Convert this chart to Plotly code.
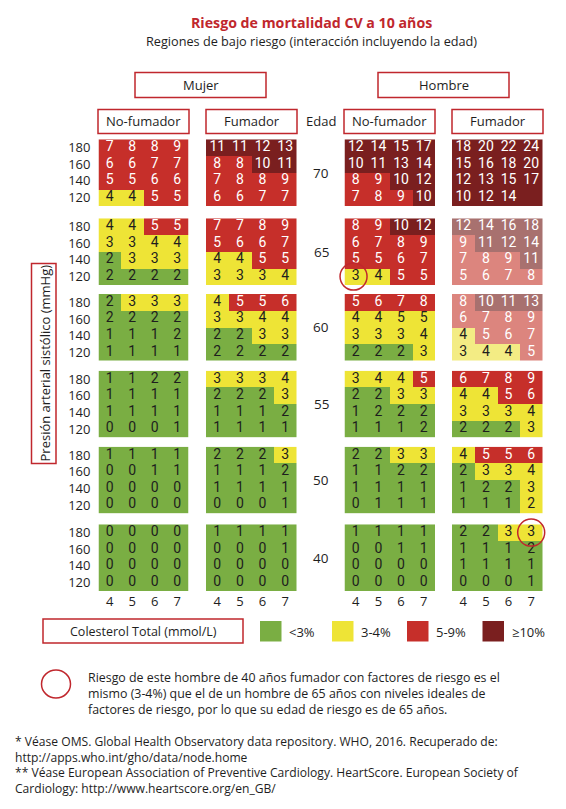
import plotly.graph_objects as go

# ---------------- DATA ----------------
ages = [70, 65, 60, 55, 50, 40]
cholesterol_ticks = ["4", "5", "6", "7"]
pressure_ticks = ["180", "160", "140", "120"]  # rows top -> bottom

# risk values (%), per age: rows 180,160,140,120 ; cols chol 4,5,6,7
mujer_nofumador = [
    [[7, 8, 8, 9], [6, 6, 7, 7], [5, 5, 6, 6], [4, 4, 5, 5]],
    [[4, 4, 5, 5], [3, 3, 4, 4], [2, 3, 3, 3], [2, 2, 2, 2]],
    [[2, 3, 3, 3], [2, 2, 2, 2], [1, 1, 1, 2], [1, 1, 1, 1]],
    [[1, 1, 2, 2], [1, 1, 1, 1], [1, 1, 1, 1], [0, 0, 0, 1]],
    [[1, 1, 1, 1], [0, 0, 1, 1], [0, 0, 0, 0], [0, 0, 0, 0]],
    [[0, 0, 0, 0], [0, 0, 0, 0], [0, 0, 0, 0], [0, 0, 0, 0]],
]
mujer_fumador = [
    [[11, 11, 12, 13], [8, 8, 10, 11], [7, 8, 8, 9], [6, 6, 7, 7]],
    [[7, 7, 8, 9], [5, 6, 6, 7], [4, 4, 5, 5], [3, 3, 3, 4]],
    [[4, 5, 5, 6], [3, 3, 4, 4], [2, 2, 3, 3], [2, 2, 2, 2]],
    [[3, 3, 3, 4], [2, 2, 2, 3], [1, 1, 1, 2], [1, 1, 1, 1]],
    [[2, 2, 2, 3], [1, 1, 1, 2], [1, 1, 1, 1], [0, 0, 0, 1]],
    [[1, 1, 1, 1], [0, 0, 0, 1], [0, 0, 0, 0], [0, 0, 0, 0]],
]
hombre_nofumador = [
    [[12, 14, 15, 17], [10, 11, 13, 14], [8, 9, 10, 12], [7, 8, 9, 10]],
    [[8, 9, 10, 12], [6, 7, 8, 9], [5, 5, 6, 7], [3, 4, 5, 5]],
    [[5, 6, 7, 8], [4, 4, 5, 5], [3, 3, 3, 4], [2, 2, 2, 3]],
    [[3, 4, 4, 5], [2, 2, 3, 3], [1, 2, 2, 2], [1, 1, 1, 2]],
    [[2, 2, 3, 3], [1, 1, 2, 2], [1, 1, 1, 1], [0, 1, 1, 1]],
    [[1, 1, 1, 1], [0, 0, 1, 1], [0, 0, 0, 0], [0, 0, 0, 0]],
]
hombre_fumador = [
    [[18, 20, 22, 24], [15, 16, 18, 20], [12, 13, 15, 17], [10, 12, 14, None]],
    [[12, 14, 16, 18], [9, 11, 12, 14], [7, 8, 9, 11], [5, 6, 7, 8]],
    [[8, 10, 11, 13], [6, 7, 8, 9], [4, 5, 6, 7], [3, 4, 4, 5]],
    [[6, 7, 8, 9], [4, 4, 5, 6], [3, 3, 3, 4], [2, 2, 2, 3]],
    [[4, 5, 5, 6], [2, 3, 3, 4], [1, 2, 2, 3], [1, 1, 1, 2]],
    [[2, 2, 3, 3], [1, 1, 1, 2], [1, 1, 1, 1], [0, 0, 0, 1]],
]

# risk category: 0 "<3%", 1 "3-4%", 2 "5-9%", 3 ">=10%"
cat_mujer_nofumador = [
    [[2, 2, 2, 2], [2, 2, 2, 2], [2, 2, 2, 2], [1, 1, 2, 2]],
    [[1, 1, 2, 2], [1, 1, 1, 1], [0, 1, 1, 1], [0, 0, 0, 0]],
    [[0, 1, 1, 1], [0, 0, 0, 0], [0, 0, 0, 0], [0, 0, 0, 0]],
    [[0, 0, 0, 0], [0, 0, 0, 0], [0, 0, 0, 0], [0, 0, 0, 0]],
    [[0, 0, 0, 0], [0, 0, 0, 0], [0, 0, 0, 0], [0, 0, 0, 0]],
    [[0, 0, 0, 0], [0, 0, 0, 0], [0, 0, 0, 0], [0, 0, 0, 0]],
]
cat_mujer_fumador = [
    [[3, 3, 3, 3], [2, 2, 3, 3], [2, 2, 2, 2], [2, 2, 2, 2]],
    [[2, 2, 2, 2], [2, 2, 2, 2], [1, 1, 2, 2], [1, 1, 1, 1]],
    [[1, 2, 2, 2], [1, 1, 1, 1], [0, 0, 1, 1], [0, 0, 0, 0]],
    [[1, 1, 1, 1], [0, 0, 0, 1], [0, 0, 0, 0], [0, 0, 0, 0]],
    [[0, 0, 0, 1], [0, 0, 0, 0], [0, 0, 0, 0], [0, 0, 0, 0]],
    [[0, 0, 0, 0], [0, 0, 0, 0], [0, 0, 0, 0], [0, 0, 0, 0]],
]
cat_hombre_nofumador = [
    [[3, 3, 3, 3], [3, 3, 3, 3], [2, 2, 3, 3], [2, 2, 2, 3]],
    [[2, 2, 3, 3], [2, 2, 2, 2], [2, 2, 2, 2], [1, 1, 2, 2]],
    [[2, 2, 2, 2], [1, 1, 1, 1], [1, 1, 1, 1], [0, 0, 0, 1]],
    [[1, 1, 1, 2], [0, 0, 1, 1], [0, 0, 0, 0], [0, 0, 0, 0]],
    [[0, 0, 1, 1], [0, 0, 0, 0], [0, 0, 0, 0], [0, 0, 0, 0]],
    [[0, 0, 0, 0], [0, 0, 0, 0], [0, 0, 0, 0], [0, 0, 0, 0]],
]
cat_hombre_fumador = [
    [[3, 3, 3, 3], [3, 3, 3, 3], [3, 3, 3, 3], [3, 3, 3, 3]],
    [[3, 3, 3, 3], [2, 3, 3, 3], [2, 2, 2, 3], [2, 2, 2, 2]],
    [[2, 3, 3, 3], [2, 2, 2, 2], [1, 2, 2, 2], [1, 1, 1, 2]],
    [[2, 2, 2, 2], [1, 1, 2, 2], [1, 1, 1, 1], [0, 0, 0, 1]],
    [[1, 2, 2, 2], [0, 1, 1, 1], [0, 0, 0, 1], [0, 0, 0, 1]],
    [[0, 0, 1, 1], [0, 0, 0, 0], [0, 0, 0, 0], [0, 0, 0, 0]],
]
faded_panels = [("hombre_fumador", 65), ("hombre_fumador", 60)]

# highlighted cells: (group, age, cholesterol index, pressure row index from top)
highlights = [("hombre_nofumador", 65, 0, 3), ("hombre_fumador", 40, 3, 0)]

legend_labels = ["<3%", "3-4%", "5-9%", "≥10%"]

# ---------------- STYLE ----------------
W, H = 566, 809
RED = "#c0272d"
TXT = "#1e1e1e"
FONT = "Open Sans"
CELLFONT = "Roboto"
colors = ["#7aae43", "#eee436", "#c62f2a", "#7a1f1f"]
colors_faded = ["#7aae43", "#f3ec84", "#dc857e", "#a8716f"]
text_colors = [TXT, TXT, "white", "white"]


def fx(px):
    return px / W


def fy(py):
    return 1 - py / H


groups = [
    ("mujer_nofumador", mujer_nofumador, cat_mujer_nofumador, (98.5, 188.5)),
    ("mujer_fumador", mujer_fumador, cat_mujer_fumador, (206.0, 296.5)),
    ("hombre_nofumador", hombre_nofumador, cat_hombre_nofumador, (344.5, 435.0)),
    ("hombre_fumador", hombre_fumador, cat_hombre_fumador, (452.0, 542.5)),
]
panel_tops = [139.3, 218.3, 294.0, 370.7, 446.7, 524.3]
panel_h = 66.6


def discrete_scale(cols):
    n = len(cols)
    cs = []
    for i, c in enumerate(cols):
        cs.append([i / n, c])
        cs.append([(i + 1) / n, c])
    return cs


fig = go.Figure()
layout_axes = {}
axis_ids = {}
n = 0
for gname, vals, cats, (xl, xr) in groups:
    for ai, age in enumerate(ages):
        n += 1
        sfx = "" if n == 1 else str(n)
        axis_ids[(gname, age)] = sfx
        faded = (gname, age) in faded_panels
        pal = colors_faded if faded else colors
        v = vals[ai][::-1]   # bottom row first (120)
        c = cats[ai][::-1]
        fig.add_trace(go.Heatmap(
            z=c, x=[0, 1, 2, 3], y=[0, 1, 2, 3],
            zmin=-0.5, zmax=3.5, colorscale=discrete_scale(pal),
            showscale=False, hoverinfo="skip", xgap=0, ygap=0,
            xaxis="x" + sfx, yaxis="y" + sfx,
        ))
        xs, ys, ts, tc = [], [], [], []
        for r in range(4):
            for col in range(4):
                xs.append(col)
                ys.append(r)
                ts.append("" if v[r][col] is None else str(v[r][col]))
                tc.append(text_colors[c[r][col]])
        fig.add_trace(go.Scatter(
            x=xs, y=ys, text=ts, mode="text",
            textfont=dict(family=CELLFONT, size=14, color=tc),
            hoverinfo="skip", showlegend=False,
            xaxis="x" + sfx, yaxis="y" + sfx,
        ))
        top = panel_tops[ai]
        show_y = gname == "mujer_nofumador"
        show_x = age == 40
        layout_axes["xaxis" + sfx] = dict(
            domain=[fx(xl), fx(xr)], range=[-0.5, 3.5], anchor="y" + sfx,
            showgrid=False, zeroline=False, showline=False, fixedrange=True,
            tickvals=[0, 1, 2, 3], ticktext=cholesterol_ticks,
            showticklabels=show_x, ticks="", ticklabelstandoff=1,
            tickfont=dict(family=FONT, size=13, color=TXT),
        )
        layout_axes["yaxis" + sfx] = dict(
            domain=[fy(top + panel_h), fy(top)], range=[-0.5, 3.5], anchor="x" + sfx,
            showgrid=False, zeroline=False, showline=False, fixedrange=True,
            tickvals=[3, 2, 1, 0], ticktext=pressure_ticks,
            showticklabels=show_y, ticks="", ticklabelstandoff=7,
            tickfont=dict(family=FONT, size=13, color=TXT),
        )

# highlight circles drawn as open markers on the highlighted cells
for gname, age, ci, ri in highlights:
    sfx = axis_ids[(gname, age)]
    fig.add_trace(go.Scatter(
        x=[ci - (0.1 if ci == 0 else 0)], y=[3 - ri], mode="markers",
        marker=dict(symbol="circle-open", size=27, color=RED, line=dict(width=1.5)),
        cliponaxis=False, hoverinfo="skip", showlegend=False,
        xaxis="x" + sfx, yaxis="y" + sfx,
    ))

shapes = []
annotations = []


def box(x0, y0, x1, y1, text, size=13):
    shapes.append(dict(type="rect", xref="paper", yref="paper",
                       x0=fx(x0), x1=fx(x1), y0=fy(y1), y1=fy(y0),
                       line=dict(color=RED, width=1.5), fillcolor="white", layer="below"))
    annotations.append(dict(xref="paper", yref="paper", x=fx((x0 + x1) / 2), y=fy((y0 + y1) / 2),
                            text=text, showarrow=False, xanchor="center", yanchor="middle",
                            font=dict(family=FONT, size=size, color=TXT)))


def label(x, y, text, size=13, anchor="left", color=TXT, bold=False):
    annotations.append(dict(xref="paper", yref="paper", x=fx(x), y=fy(y),
                            text=("<b>%s</b>" % text) if bold else text, showarrow=False,
                            xanchor=anchor, yanchor="middle", align=anchor if anchor != "center" else "center",
                            font=dict(family=FONT, size=size, color=color)))


# title
label(311, 22.5, "Riesgo de mortalidad CV a 10 años", size=14.2, anchor="center", color=RED, bold=True)
label(311, 41.5, "Regiones de bajo riesgo (interacción incluyendo la edad)", size=12.7, anchor="center")

# headers
box(135, 72.5, 266, 97.5, "Mujer")
box(378, 72.5, 509, 97.5, "Hombre")
box(98, 109.5, 189, 133.5, "No-fumador")
box(206, 109.5, 297, 133.5, "Fumador")
box(344, 109.5, 435, 133.5, "No-fumador")
box(452, 109.5, 543, 133.5, "Fumador")
label(321, 121.5, "Edad", anchor="center")

# age labels
for ai, age in enumerate(ages):
    label(321, panel_tops[ai] + panel_h / 2, str(age), size=13.5, anchor="center")

# y-axis title box
shapes.append(dict(type="rect", xref="paper", yref="paper",
                   x0=fx(31.5), x1=fx(56), y0=fy(463.5), y1=fy(263.5),
                   line=dict(color=RED, width=1.5)))
annotations.append(dict(xref="paper", yref="paper", x=fx(44), y=fy(363.5),
                        text="Presión arterial sistólico (mmHg)", textangle=-90, showarrow=False,
                        xanchor="center", yanchor="middle",
                        font=dict(family=FONT, size=13, color=TXT)))

# legend
box(43, 619, 243, 643, "Colesterol Total (mmol/L)", size=12.5)
sw_x = [260, 332, 407, 482.5]
for i, lab in enumerate(legend_labels):
    shapes.append(dict(type="rect", xref="paper", yref="paper",
                       x0=fx(sw_x[i]), x1=fx(sw_x[i] + 21.5), y0=fy(641.5), y1=fy(621),
                       line=dict(width=0), fillcolor=colors[i]))
    label(sw_x[i] + 27, 631.5, lab, size=13)

shapes.append(dict(type="circle", xref="paper", yref="paper",
                   x0=fx(41.5), x1=fx(70.5), y0=fy(698), y1=fy(670),
                   line=dict(color=RED, width=1.5)))
note_lines = [
    "Riesgo de este hombre de 40 años fumador con factores de riesgo es el",
    "mismo (3-4%) que el de un hombre de 65 años con niveles ideales de",
    "factores de riesgo, por lo que su edad de riesgo es de 65 años.",
]
label(85.5, 693.0, "<br>".join(note_lines), size=12.4)

foot_lines = [
    "* Véase OMS. Global Health Observatory data repository. WHO, 2016. Recuperado de:",
    "http://apps.who.int/gho/data/node.home",
    "** Véase European Association of Preventive Cardiology. HeartScore. European Society of",
    "Cardiology: http://www.heartscore.org/en_GB/",
]
label(12.5, 765.0, "<br>".join(foot_lines), size=12.1)

fig.update_layout(
    width=W, height=H, margin=dict(l=0, r=0, t=0, b=0),
    paper_bgcolor="white", plot_bgcolor="white",
    showlegend=False, shapes=shapes, annotations=annotations,
    **layout_axes,
)

fig.write_html("out.html", config={"displayModeBar": False},
               post_script="document.body.style.margin='0';")
